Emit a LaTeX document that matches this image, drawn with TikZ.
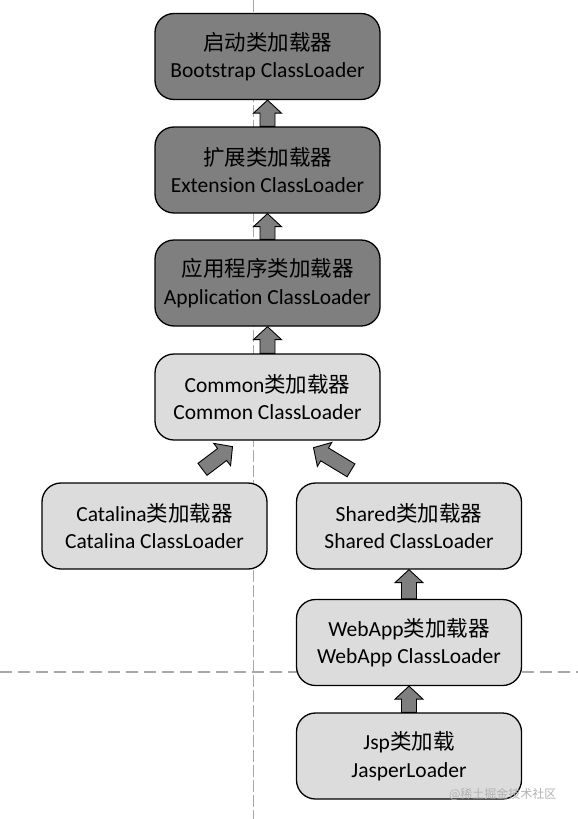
\documentclass[tikz,border=0pt]{standalone}
\usepackage{fontspec}
\setmainfont{Carlito}
\newfontfamily\cjk{Noto Sans CJK SC}
\usetikzlibrary{calc}
\definecolor{darkbox}{HTML}{7F7F7F}
\definecolor{lightbox}{HTML}{DCDCDC}
\definecolor{guide}{HTML}{A8A8A8}
\newcommand{\barrow}[2]{%
  \coordinate (ba-c) at ($(#2)!13pt!(#1)$);
  \filldraw[blockarrow] ($(#1)!7.5pt!90:(#2)$) -- ($(ba-c)!7.5pt!90:(#2)$) -- ($(ba-c)!14pt!90:(#2)$) -- (#2) -- ($(ba-c)!14pt!-90:(#2)$) -- ($(ba-c)!7.5pt!-90:(#2)$) -- ($(#1)!7.5pt!-90:(#2)$) -- cycle;}
\begin{document}
\begin{tikzpicture}[x=1pt,y=-1pt,
  loaderbox/.style={draw=black, line width=1.3pt, rounded corners=19pt,
    minimum width=225pt, minimum height=86pt, align=center, inner sep=0pt,
    font=\fontsize{21.5}{27.5}\selectfont},
  darkloader/.style={loaderbox, fill=darkbox},
  lightloader/.style={loaderbox, fill=lightbox},
  blockarrow/.style={fill=darkbox, draw=black, line width=0.9pt, line join=miter},
  vguide/.style={draw=guide, line width=0.8pt, dash pattern=on 12pt off 3pt},
  hguide/.style={draw=guide, line width=1.4pt, dash pattern=on 12pt off 6pt}]
\useasboundingbox (0,0) rectangle (578,819);
\fill[white] (0,0) rectangle (578,819);
\coordinate (vtop) at (253,0);
\coordinate (vbot) at (253,819);
\coordinate (hleft) at (0,672);
\coordinate (hright) at (578,672);
\draw[vguide] (vtop) -- (vbot);
\draw[hguide] (hleft) -- (hright);

\node[darkloader] (boot) at (267.5,56.5) {{\cjk 启动类加载器}\\Bootstrap ClassLoader};
\node[darkloader] (ext) at (267.5,170) {{\cjk 扩展类加载器}\\Extension ClassLoader};
\node[darkloader] (app) at (267.5,283) {{\cjk 应用程序类加载器}\\Application ClassLoader};
\node[lightloader] (common) at (267.5,397) {Common{\cjk 类加载器}\\Common ClassLoader};
\node[lightloader] (cat) at (154.5,526) {Catalina{\cjk 类加载器}\\Catalina ClassLoader};
\node[lightloader] (shared) at (409,526) {Shared{\cjk 类加载器}\\Shared ClassLoader};
\node[lightloader] (webapp) at (409,642.5) {WebApp{\cjk 类加载器}\\WebApp ClassLoader};
\node[lightloader] (jsp) at (409,756) {Jsp{\cjk 类加载}\\JasperLoader};

\barrow{ext.north}{boot.south}
\barrow{app.north}{ext.south}
\barrow{common.north}{app.south}
\barrow{webapp.north}{shared.south}
\barrow{jsp.north}{webapp.south}

\coordinate (catTail) at ($(cat.north)+(48,-13)$);
\coordinate (catTip) at ($(common.south)+(-35,6)$);
\coordinate (shTail) at ($(shared.north)+(-58,-12)$);
\coordinate (shTip) at ($(common.south)+(46,7)$);
\barrow{catTail}{catTip}
\barrow{shTail}{shTip}

\node[text=black!30, font=\cjk\fontsize{12}{14}\selectfont, anchor=east] (mark) at (560,794) {@稀土掘金技术社区};
\end{tikzpicture}
\end{document}
